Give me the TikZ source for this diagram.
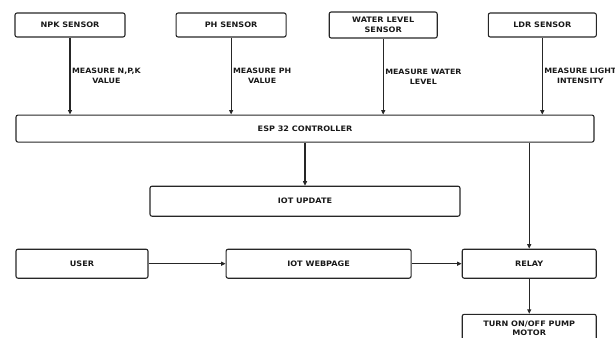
\documentclass[tikz,border=0pt]{standalone}
\usepackage{fontspec}
\setmainfont{DejaVu Sans}[FakeStretch=1.08]
\usepackage{xcolor}
\definecolor{bdLine}{RGB}{38,38,38}
\definecolor{bdText}{RGB}{25,25,25}
\usetikzlibrary{positioning,arrows.meta}

\begin{document}
\begin{tikzpicture}[node distance=5mm and 8mm,
  b/.style={draw=bdLine,line width=1.1pt,rounded corners=2pt,align=center,text=bdText,
    font=\fontsize{7.5}{9.5}\selectfont\bfseries,inner sep=2pt,minimum height=24pt,minimum width=110pt},
  lbl/.style={align=center,text=bdText,font=\fontsize{7.3}{10}\selectfont\bfseries,inner sep=1.5pt},
  a/.style={-{Triangle[length=4.5pt,width=4pt]},bdLine,line width=1.1pt}]
  \useasboundingbox (0,0) rectangle (615pt,-337pt);
  \node[b] (npk) at (70pt,-25pt) {NPK SENSOR};
  \node[b,right=50pt of npk] (ph) {PH SENSOR};
  \node[b,minimum width=108pt,minimum height=26pt,right=42pt of ph] (wl) {WATER LEVEL\\SENSOR};
  \node[b,minimum width=108pt,right=50pt of wl] (ldr) {LDR SENSOR};
  \node[b,minimum width=578pt,minimum height=27pt,below=77pt of npk.south west,anchor=north west,xshift=1pt] (esp) {ESP 32 CONTROLLER};
  \node[b,minimum width=310pt,minimum height=30pt,below=43pt of esp] (iot) {IOT UPDATE};
  \node[b,minimum width=132pt,minimum height=29pt,below=106pt of esp.south west,anchor=north west] (user) {USER};
  \node[b,minimum width=185pt,minimum height=29pt,right=77pt of user] (web) {IOT WEBPAGE};
  \node[b,minimum width=134pt,minimum height=29pt,right=50pt of web] (relay) {RELAY};
  \node[b,minimum width=134pt,minimum height=28pt,below=35pt of relay] (pump) {TURN ON/OFF PUMP\\MOTOR};
  \draw[a] (npk) -- (npk |- esp.north) node[lbl,midway,right] {MEASURE N,P,K\\VALUE};
  \draw[a] (ph) -- (ph |- esp.north) node[lbl,midway,right] {MEASURE PH\\VALUE};
  \draw[a] (wl) -- (wl |- esp.north) node[lbl,midway,right] {MEASURE WATER\\LEVEL};
  \draw[a] (ldr) -- (ldr |- esp.north) node[lbl,midway,right] {MEASURE LIGHT\\INTENSITY};
  \draw[a] (esp) -- (iot);
  \draw[a] (esp.south -| relay) -- (relay);
  \draw[a] (user) -- (web);
  \draw[a] (web) -- (relay);
  \draw[a] (relay) -- (pump);
\end{tikzpicture}
\end{document}
